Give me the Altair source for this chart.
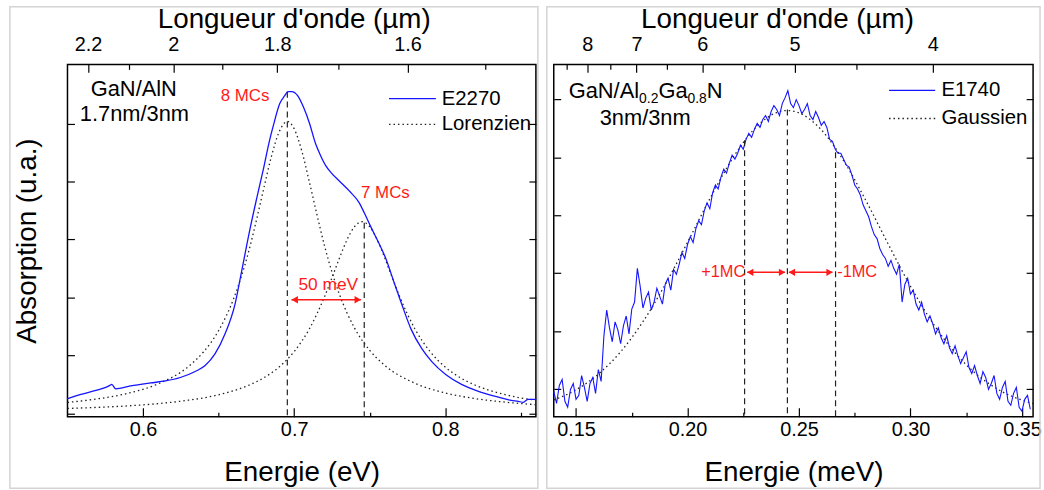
import altair as alt
import pandas as pd

FONT = "Liberation Sans"
BLUE = "#1414ff"
RED = "#ff1a1a"
INK = "#222222"
FRAME = "#d4d4d4"

# ---------------- left panel : GaN/AlN, sample E2270 ----------------
e2270_E = [0.5497, 0.5589, 0.5688, 0.5753, 0.5780, 0.5793, 0.5819, 0.5918, 0.6049, 0.6148,
           0.6247, 0.6345, 0.6411, 0.6477, 0.6543, 0.6609, 0.6655, 0.6707, 0.6753, 0.6795,
           0.6839, 0.6861, 0.6905, 0.6938, 0.6959, 0.6984, 0.7023, 0.7063, 0.7102, 0.7141,
           0.7168, 0.7207, 0.7247, 0.7299, 0.7365, 0.7431, 0.7464, 0.7510, 0.7549, 0.7609,
           0.7661, 0.7714, 0.7773, 0.7845, 0.7911, 0.8003, 0.8108, 0.8220, 0.8332, 0.8438,
           0.8484, 0.8516, 0.8549, 0.8602]
e2270_abs = [14.5, 19, 23, 26, 28, 29, 24.5, 27.5, 30.5, 32.5,
             36, 42, 48, 60, 80, 110, 145, 185, 217, 245,
             276, 289, 312, 320, 324, 324, 320, 308, 292, 272,
             262, 250, 242, 234, 224, 212, 202, 187, 175, 155,
             132, 109, 85, 65, 52, 39, 29, 22, 17, 13,
             12, 11, 14, 14]

lor1_E = [0.55, 0.57, 0.59, 0.61, 0.63, 0.64, 0.65, 0.66, 0.67, 0.675, 0.68, 0.685, 0.69, 0.6955,
          0.70, 0.705, 0.71, 0.715, 0.72, 0.725, 0.73, 0.74, 0.75, 0.76, 0.78, 0.80, 0.82, 0.84, 0.86]
lor1_abs = [10.9, 14.5, 20.1, 29.6, 47.0, 61.7, 83.2, 115.6, 163.5, 194.2, 227.2, 259.0, 283.2, 294.0,
            286.7, 264.7, 233.6, 200.7, 169.4, 142.4, 119.7, 85.8, 63.4, 48.2, 30.2, 20.4, 14.7, 11.1, 8.6]

lor2_E = [0.55, 0.57, 0.59, 0.61, 0.63, 0.65, 0.67, 0.68, 0.69, 0.70, 0.71, 0.72, 0.725, 0.73, 0.735,
          0.74, 0.745, 0.75, 0.755, 0.76, 0.765, 0.77, 0.78, 0.79, 0.80, 0.81, 0.82, 0.84, 0.86]
lor2_abs = [4.8, 5.9, 7.4, 9.7, 13.1, 18.6, 28.2, 35.8, 46.5, 62.1, 84.8, 117.0, 136.3, 156.4, 174.8,
            188.1, 193.0, 188.1, 174.8, 156.4, 136.3, 117.0, 84.8, 62.1, 46.5, 35.8, 28.2, 18.6, 13.1]

# ---------------- right panel : GaN/Al0.2Ga0.8N, sample E1740 ----------------
e1740_abs = [22, 10, 28, 34, 12, 6, 24, 30, 14, 18, 38, 26, 12, 30, 36, 20, 44, 32,
             78, 104, 86, 72, 92, 84, 70, 88, 98, 80, 105, 112,
             146, 128, 106, 116, 122, 104, 112, 126, 118, 110, 130, 136,
             124, 145, 140, 150, 162, 156, 170, 178, 172, 186, 194, 190, 204, 212, 206, 222, 230, 226,
             238, 246, 242, 252, 260, 256, 262, 270, 266, 276, 282, 278, 286, 292, 288, 296, 300, 294,
             304, 310, 306, 300, 312, 318,
             325, 312, 308, 316, 310, 302, 306, 312, 300, 296, 304, 298, 290, 294, 288, 276, 274,
             266, 262, 262, 256, 250, 248, 240, 230, 226, 220, 210, 204, 198, 188, 180, 176, 166, 160,
             156, 148, 154, 146, 140, 150,
             112, 130, 136, 120, 124, 110, 104, 112, 100, 92, 98, 90, 80, 86, 76, 70, 78, 66, 60, 68,
             58, 50, 56, 62, 46, 40, 48, 38, 30, 42, 36, 24, 30, 38, 20, 14, 26, 32, 12, 8,
             20, 26, 6, 2, 14, 18, 4]
E1740_START = 0.14
E1740_STEP = 0.00125
e1740_E = [round(E1740_START + E1740_STEP * i, 5) for i in range(len(e1740_abs))]

gauss_E = [0.14, 0.15, 0.16, 0.17, 0.18, 0.19, 0.20, 0.21, 0.22, 0.23, 0.24, 0.2448,
           0.25, 0.26, 0.27, 0.28, 0.29, 0.30, 0.31, 0.32, 0.33, 0.34, 0.355]
gauss_abs = [13.4, 23.6, 39.4, 61.9, 92.2, 129.7, 172.2, 216.0, 256.0, 286.5, 303.0, 305.0,
             302.7, 285.6, 254.5, 214.3, 170.5, 128.0, 90.9, 60.9, 38.6, 23.1, 9.6]

# ---------------- axes / ticks ----------------
L_DOM = [0.55, 0.86]
R_DOM = [0.14, 0.355]
Y_DOM = [-3.5, 351.5]
L_MAJOR = [0.6, 0.7, 0.8]
L_MINOR = [0.65, 0.75, 0.85]
R_MAJOR = [0.15, 0.20, 0.25, 0.30, 0.35]
R_MINOR = [0.175, 0.225, 0.275, 0.325]
L_WAVE_MAJOR = [2.2, 2.0, 1.8, 1.6]
L_WAVE_MINOR = [2.1, 1.9, 1.7, 1.5]
R_WAVE_MAJOR = [8, 7, 6, 5, 4]
R_WAVE_MINOR = [8.5, 7.5, 6.5, 5.5, 4.5]
L_YTICKS = [0, 58.4, 116.8, 175.2, 233.6, 292.0]
R_YTICKS = [24.3, 82.7, 141.1, 199.5, 257.9, 316.3]

HC = 1.24  # eV * um


def to_E(waves):
    return [HC / w for w in waves]


W_L, W_R, H = 472, 483, 355


def xenc(dom, axis, field="E"):
    return alt.X(f"{field}:Q", scale=alt.Scale(domain=dom, nice=False, zero=False), axis=axis)


def yenc(axis, field="v"):
    return alt.Y(f"{field}:Q", scale=alt.Scale(domain=Y_DOM, nice=False, zero=False), axis=axis)


def ax_bottom(values, fmt, title):
    return alt.Axis(orient="bottom", values=values, format=fmt, title=title, ticks=False, tickSize=0,
                    domain=False, grid=False, labelFontSize=20, labelPadding=3, labelFlush=False,
                    labelOverlap=False, titleFontSize=28, titlePadding=19, titleFontWeight="normal",
                    labelColor="black", titleColor="black", labelFont=FONT, titleFont=FONT)


def ax_top(values, title, title_x):
    return alt.Axis(orient="top", values=values, labelExpr="format(1.24/datum.value, '.2~r')",
                    title=title, ticks=False, tickSize=0, domain=False, grid=False,
                    labelFontSize=20, labelPadding=10, labelFlush=False, labelOverlap=False,
                    titleFontSize=28, titlePadding=1, titleX=title_x, titleFontWeight="normal",
                    labelColor="black", titleColor="black", labelFont=FONT, titleFont=FONT)


def ax_ticks(orient, values, size):
    return alt.Axis(orient=orient, values=values, offset=-size, tickSize=size, ticks=True,
                    labels=False, domain=False, grid=False, title=None, tickColor="black",
                    tickWidth=1.2)


def ax_ytitle():
    return alt.Axis(orient="left", title="Absorption (u.a.)", labels=False, ticks=False, tickSize=0,
                    domain=False, grid=False, titleFontSize=28, titlePadding=26,
                    titleFontWeight="normal", titleColor="black", titleFont=FONT)


def border(x1, x2):
    return alt.Chart(pd.DataFrame({"k": [0]})).mark_rect(
        fillOpacity=0, stroke=FRAME, strokeWidth=1.5
    ).encode(x=alt.value(x1), x2=alt.value(x2), y=alt.value(-58), y2=alt.value(427))


def text_layer(dom, E, v, txt, size, color="black", align="center", baseline="alphabetic", dx=0, dy=0,
               axis=None):
    df = pd.DataFrame({"E": [E], "v": [v], "t": [txt]})
    return alt.Chart(df).mark_text(
        font=FONT, fontSize=size, color=color, align=align, baseline=baseline, dx=dx, dy=dy
    ).encode(x=xenc(dom, axis), y=yenc(None), text="t:N")


def arrow_layers(dom, segs, v, axis=None):
    df = pd.DataFrame({"E": [s[0] for s in segs], "E2": [s[1] for s in segs], "v": [v] * len(segs)})
    rule = alt.Chart(df).mark_rule(color=RED, strokeWidth=1.5).encode(
        x=xenc(dom, axis), x2="E2:Q", y=yenc(None))
    return [rule]


def heads(dom, lefts, rights, v):
    dl = pd.DataFrame({"E": lefts, "v": [v] * len(lefts)})
    dr = pd.DataFrame({"E": rights, "v": [v] * len(rights)})
    a = alt.Chart(dl).mark_point(shape="triangle-left", filled=True, size=55, color=RED, opacity=1).encode(
        x=xenc(dom, None), y=yenc(None))
    b = alt.Chart(dr).mark_point(shape="triangle-right", filled=True, size=55, color=RED, opacity=1).encode(
        x=xenc(dom, None), y=yenc(None))
    return [a, b]


def legend_layers(dom, x1, x2, xt, v_line, v_dot, name_line, name_dot, axis):
    dl = pd.DataFrame({"E": [x1], "E2": [x2], "v": [v_line]})
    dd = pd.DataFrame({"E": [x1], "E2": [x2], "v": [v_dot]})
    l1 = alt.Chart(dl).mark_rule(color=BLUE, strokeWidth=1.3).encode(x=xenc(dom, axis), x2="E2:Q", y=yenc(None))
    l2 = alt.Chart(dd).mark_rule(color=INK, strokeWidth=1.3, strokeDash=[1.5, 3]).encode(
        x=xenc(dom, None), x2="E2:Q", y=yenc(None))
    t1 = text_layer(dom, xt, v_line, name_line, 20.5, align="left", baseline="middle")
    t2 = text_layer(dom, xt, v_dot, name_dot, 20.5, align="left", baseline="middle")
    return [l1, l2, t1, t2]


# ---------------- left chart ----------------
df_e2270 = pd.DataFrame({"E": e2270_E, "v": e2270_abs})
df_l1 = pd.DataFrame({"E": lor1_E, "v": lor1_abs})
df_l2 = pd.DataFrame({"E": lor2_E, "v": lor2_abs})
df_ldash = pd.DataFrame({"E": [0.6955, 0.7464], "top": [324, 192], "bot": [Y_DOM[0]] * 2})

dotted = dict(color=INK, strokeWidth=1.3, strokeDash=[1.5, 3], interpolate="monotone")

left_layers = [
    border(-58, 474),
    alt.Chart(df_l1).mark_line(**dotted).encode(
        x=xenc(L_DOM, ax_ticks("bottom", L_MAJOR, 9)), y=yenc(ax_ytitle())),
    alt.Chart(df_l2).mark_line(**dotted).encode(
        x=xenc(L_DOM, ax_ticks("bottom", L_MINOR, 4.5)), y=yenc(ax_ticks("left", L_YTICKS, 7))),
    alt.Chart(df_e2270).mark_line(color=BLUE, strokeWidth=1.3, interpolate="monotone").encode(
        x=xenc(L_DOM, ax_bottom(L_MAJOR, ".1f", "Energie (eV)")), y=yenc(ax_ticks("right", L_YTICKS, 7))),
    alt.Chart(df_ldash).mark_rule(color=INK, strokeWidth=1.2, strokeDash=[6, 4]).encode(
        x=xenc(L_DOM, ax_top(to_E(L_WAVE_MAJOR), "Longueur d'onde (µm)", 228)),
        y=alt.Y("top:Q", scale=alt.Scale(domain=Y_DOM, nice=False, zero=False), axis=None),
        y2="bot:Q"),
]
left_layers += arrow_layers(L_DOM, [(0.6982, 0.7442)], 114.3, axis=ax_ticks("top", to_E(L_WAVE_MAJOR), 8))
left_layers += heads(L_DOM, [0.7004], [0.7421], 114.3)
left_layers += legend_layers(L_DOM, 0.7628, 0.7938, 0.7977, 317, 291, "E2270", "Lorenzien",
                             ax_ticks("top", to_E(L_WAVE_MINOR), 5))
left_layers += [
    text_layer(L_DOM, 0.5939, 320, "GaN/AlN", 22),
    text_layer(L_DOM, 0.5943, 294, "1.7nm/3nm", 22),
    text_layer(L_DOM, 0.6675, 315, "8 MCs", 17, color=RED),
    text_layer(L_DOM, 0.7604, 217, "7 MCs", 17, color=RED),
    text_layer(L_DOM, 0.7226, 124.3, "50 meV", 17.5, color=RED),
]

left = alt.layer(*left_layers).resolve_axis(x="independent", y="independent").properties(width=W_L, height=H)

# ---------------- right chart ----------------
df_e1740 = pd.DataFrame({"E": e1740_E, "v": e1740_abs})
df_g = pd.DataFrame({"E": gauss_E, "v": gauss_abs})
df_rdash = pd.DataFrame({"E": [0.2256, 0.2448, 0.2664], "top": [275, 306, 263], "bot": [Y_DOM[0]] * 3})

right_layers = [
    border(-7, 490),
    alt.Chart(df_g).mark_line(**dotted).encode(
        x=xenc(R_DOM, ax_ticks("bottom", R_MAJOR, 9)), y=yenc(ax_ticks("left", R_YTICKS, 7))),
    alt.Chart(df_e1740).mark_line(color=BLUE, strokeWidth=1.1).encode(
        x=xenc(R_DOM, ax_bottom(R_MAJOR, ".2f", "Energie (meV)")), y=yenc(ax_ticks("right", R_YTICKS, 7))),
    alt.Chart(df_rdash).mark_rule(color=INK, strokeWidth=1.2, strokeDash=[6, 4]).encode(
        x=xenc(R_DOM, ax_top(to_E(R_WAVE_MAJOR), "Longueur d'onde (µm)", 225)),
        y=alt.Y("top:Q", scale=alt.Scale(domain=Y_DOM, nice=False, zero=False), axis=None),
        y2="bot:Q"),
]
right_layers += arrow_layers(R_DOM, [(0.2268, 0.2437), (0.2455, 0.2650)], 142,
                             axis=ax_ticks("bottom", R_MINOR, 4.5))
right_layers += heads(R_DOM, [0.2281, 0.2468], [0.2424, 0.2637], 142)
right_layers += legend_layers(R_DOM, 0.2904, 0.3111, 0.3139, 325.3, 297, "E1740", "Gaussien",
                              ax_ticks("top", to_E(R_WAVE_MAJOR), 8))
# composite label with subscripts
comp = [("GaN/Al", 22, 0, 0), ("0.2", 14, 70.9, 5), ("Ga", 22, 90.4, 0), ("0.8", 14, 119.7, 5), ("N", 22, 139.2, 0)]
for i, (t, s, dx, dy) in enumerate(comp):
    right_layers.append(text_layer(R_DOM, 0.1467, 318, t, s, align="left", dx=dx, dy=dy,
                                   axis=ax_ticks("top", to_E(R_WAVE_MINOR), 5) if i == 0 else None))
right_layers += [
    text_layer(R_DOM, 0.181, 290, "3nm/3nm", 22),
    text_layer(R_DOM, 0.2160, 142, "+1MC", 16.5, color=RED, baseline="middle"),
    text_layer(R_DOM, 0.2761, 142, "-1MC", 16.5, color=RED, baseline="middle"),
]

right = alt.layer(*right_layers).resolve_axis(x="independent", y="independent").properties(width=W_R, height=H)

chart = alt.hconcat(left, right, spacing=5).properties(
    padding={"left": 8, "top": 3, "right": 2, "bottom": 2}, background="white"
).configure(font=FONT).configure_view(stroke="black", strokeWidth=1.5).configure_axis(grid=False)

chart.save("out.html", embed_options={"renderer": "svg", "actions": False})
